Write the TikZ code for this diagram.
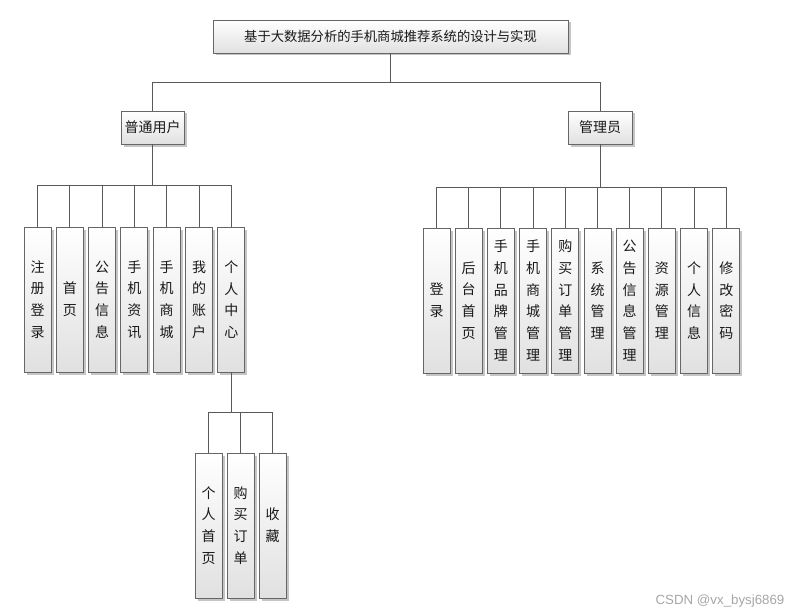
\documentclass[tikz,border=0pt]{standalone}
\usepackage{fontspec}
\setmainfont{Noto Sans CJK SC}
\newfontfamily\wmfont{Liberation Sans}
\usetikzlibrary{shadows}

\tikzset{
  box/.style={draw=black!60, line width=0.9pt, top color=white, bottom color=black!12,
    drop shadow={shadow xshift=2.5pt, shadow yshift=-2.5pt, fill=black!45, opacity=0.5},
    inner sep=0pt, text=black!90, align=center, font=\fontsize{14}{21.7}\selectfont},
  hbox/.style={box, minimum height=33pt},
  vbox/.style={box, minimum width=27pt, minimum height=145pt},
  link/.style={draw=black!65, line width=1pt},
}

\begin{document}
\begin{tikzpicture}[x=1pt, y=-1pt]
  \useasboundingbox (0,0) rectangle (794,615);
  % 顶层：题目与两类角色
  \node[hbox, minimum width=355pt, font=\fontsize{13.3}{15}\selectfont] (title) at (390.5,36.5) {基于大数据分析的手机商城推荐系统的设计与实现};
  \node[hbox, minimum width=63pt] (user) at (152.5,127.5) {普通用户};
  \node[hbox, minimum width=64pt] (admin) at (600,127.5) {管理员};
  \foreach \r in {user, admin} { \draw[link] (title.south) -- ++(0,29) -| (\r.north); }
  % 普通用户 — 七个功能
  \foreach \t [count=\i] in {{注\\册\\登\\录}, {首\\页}, {公\\告\\信\\息}, {手\\机\\资\\讯},
      {手\\机\\商\\城}, {我\\的\\账\\户}, {个\\人\\中\\心}} {
    \node[vbox] (u\i) at ({37.5+32.3*(\i-1)},299.5) {\t};
    \draw[link] (user.south) -- ++(0,41) -| (u\i.north);
  }
  % 个人中心 — 下一层三个
  \foreach \t [count=\i] in {{个\\人\\首\\页}, {购\\买\\订\\单}, {收\\藏}} {
    \node[vbox] (p\i) at ({208.5+32*(\i-1)},525.5) {\t};
    \draw[link] (u7.south) -- ++(0,40) -| (p\i.north);
  }
  % 管理员 — 十个功能
  \foreach \t [count=\i] in {{登\\录}, {后\\台\\首\\页}, {手\\机\\品\\牌\\管\\理}, {手\\机\\商\\城\\管\\理},
      {购\\买\\订\\单\\管\\理}, {系\\统\\管\\理}, {公\\告\\信\\息\\管\\理}, {资\\源\\管\\理},
      {个\\人\\信\\息}, {修\\改\\密\\码}} {
    \node[vbox] (a\i) at ({436.5+32.2*(\i-1)},300.5) {\t};
    \draw[link] (admin.south) -- ++(0,43) -| (a\i.north);
  }
  \node[font=\wmfont\fontsize{13.3}{15}\selectfont, text=black!35] (mark) at (720,601) {CSDN @vx\_bysj6869};
\end{tikzpicture}
\end{document}
